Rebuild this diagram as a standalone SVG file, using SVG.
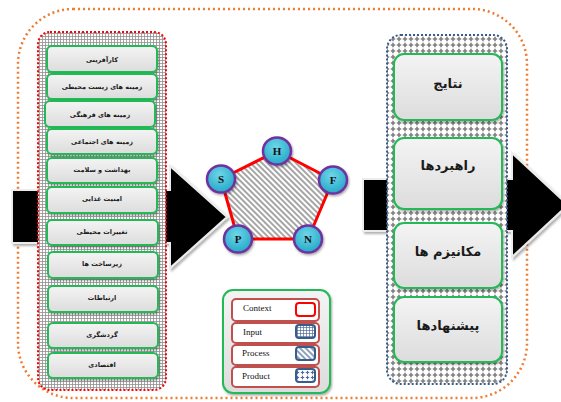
<svg xmlns="http://www.w3.org/2000/svg" width="561" height="402" viewBox="0 0 561 402">
<defs>
  <pattern id="grid" width="3" height="3" patternUnits="userSpaceOnUse">
    <rect width="3" height="3" fill="#ffffff"/>
    <path d="M0,0.5 H3 M0.5,0 V3" stroke="#8f8f8f" stroke-width="0.8"/>
  </pattern>
  <pattern id="plus" width="6" height="6" patternUnits="userSpaceOnUse">
    <rect width="6" height="6" fill="#ffffff"/>
    <path d="M3,0.8 V5.2 M0.8,3 H5.2" stroke="#7f7f7f" stroke-width="1.6"/>
  </pattern>
  <pattern id="hatch" width="4" height="4" patternUnits="userSpaceOnUse" patternTransform="rotate(45)">
    <rect width="4" height="4" fill="#ffffff"/>
    <path d="M0,2 H4" stroke="#808080" stroke-width="1.4"/>
  </pattern>
  <pattern id="smallgrid" width="3" height="3" patternUnits="userSpaceOnUse">
    <rect width="3" height="3" fill="#ffffff"/>
    <path d="M0,0.5 H3 M0.5,0 V3" stroke="#4f6d9a" stroke-width="0.7"/>
  </pattern>
  <pattern id="smallhatch" width="4" height="4" patternUnits="userSpaceOnUse" patternTransform="rotate(45)">
    <rect width="4" height="4" fill="#ffffff"/>
    <path d="M0,2 H4" stroke="#4f6d9a" stroke-width="1.3"/>
  </pattern>
  <pattern id="smallplus" width="5" height="5" patternUnits="userSpaceOnUse">
    <rect width="5" height="5" fill="#ffffff"/>
    <path d="M2.5,0.8 V4.2 M0.8,2.5 H4.2" stroke="#4f6d9a" stroke-width="1.2"/>
  </pattern>
  <linearGradient id="boxfill" x1="0" y1="0" x2="0" y2="1">
    <stop offset="0" stop-color="#f4f4f4"/>
    <stop offset="1" stop-color="#dcdcdc"/>
  </linearGradient>
  <radialGradient id="ball" cx="0.45" cy="0.35" r="0.7">
    <stop offset="0" stop-color="#6fd6ea"/>
    <stop offset="1" stop-color="#1fa6c4"/>
  </radialGradient>
  <filter id="sh" x="-20%" y="-20%" width="140%" height="150%">
    <feDropShadow dx="1" dy="1.5" stdDeviation="1" flood-color="#000" flood-opacity="0.35"/>
  </filter>
  <filter id="ash" x="-10%" y="-10%" width="125%" height="125%">
    <feDropShadow dx="2" dy="2" stdDeviation="1.2" flood-color="#000" flood-opacity="0.3"/>
  </filter>
  <style>
    .lbox{fill:url(#boxfill);stroke:#23b957;stroke-width:2;filter:url(#sh)}
    .rbox{fill:url(#boxfill);stroke:#23b957;stroke-width:2;filter:url(#sh)}
    .lt{font-family:"DejaVu Sans",sans-serif;font-weight:bold;font-size:6.5px;fill:#1a1a1a;text-anchor:middle}
    .rt{font-family:"DejaVu Sans",sans-serif;font-weight:bold;font-size:13px;fill:#1a1a1a;text-anchor:middle}
    .ball{fill:url(#ball);stroke:#7030a0;stroke-width:2.5;filter:url(#sh)}
    .bt{font-family:"Liberation Serif",serif;font-weight:bold;font-size:11px;fill:#111;text-anchor:middle}
    .lrow{fill:#ffffff;stroke:#c0504d;stroke-width:2}
    .lg{font-family:"Liberation Serif",serif;font-size:9px;fill:#111}
    .arrow{fill:#000;stroke:#ececec;stroke-width:2;filter:url(#ash)}
  </style>
</defs>

<rect width="561" height="402" fill="#ffffff"/>

<!-- outer frame -->
<rect id="frame" x="18" y="9" width="509" height="389" rx="55" fill="none" stroke="#ed7d31" stroke-width="2.5" stroke-dasharray="2 3"/>

<!-- connectors (big arrows) -->
<g id="connectors">
  <path class="arrow" d="M12,190 H170 V166 L227,217 L170,268 V243 H12 Z"/>
  <path class="arrow" d="M363,179 H512 V153 L568,205 L512,257 V231 H363 Z"/>
</g>

<!-- left column -->
<g id="left-column">
  <rect x="38" y="32" width="128" height="358" rx="12" fill="url(#grid)" stroke="#ff0000" stroke-width="2" stroke-dasharray="2 2"/>
  <g id="l1"><rect class="lbox" x="47" y="46" width="110" height="26" rx="5"/><text class="lt" x="102" y="62">کارآفرینی</text></g>
  <g id="l2"><rect class="lbox" x="47" y="74" width="110" height="25" rx="5"/><text class="lt" x="102" y="89">زمینه های زیست محیطی</text></g>
  <g id="l3"><rect class="lbox" x="45" y="101" width="110" height="26" rx="5"/><text class="lt" x="100" y="117">زمینه های فرهنگی</text></g>
  <g id="l4"><rect class="lbox" x="47" y="129" width="110" height="25" rx="5"/><text class="lt" x="102" y="144">زمینه های اجتماعی</text></g>
  <g id="l5"><rect class="lbox" x="47" y="158" width="110" height="25" rx="5"/><text class="lt" x="102" y="172">بهداشت و سلامت</text></g>
  <g id="l6"><rect class="lbox" x="47" y="187" width="110" height="26" rx="5"/><text class="lt" x="102" y="201">امنیت غذایی</text></g>
  <g id="l7"><rect class="lbox" x="47" y="220" width="111" height="25" rx="5"/><text class="lt" x="102" y="234">تغییرات محیطی</text></g>
  <g id="l8"><rect class="lbox" x="48" y="252" width="110" height="26" rx="5"/><text class="lt" x="102" y="266">زیرساخت ها</text></g>
  <g id="l9"><rect class="lbox" x="48" y="286" width="110" height="26" rx="5"/><text class="lt" x="102" y="300">ارتباطات</text></g>
  <g id="l10"><rect class="lbox" x="48" y="323" width="110" height="25" rx="5"/><text class="lt" x="102" y="337">گردشگری</text></g>
  <g id="l11"><rect class="lbox" x="48" y="353" width="110" height="25" rx="5"/><text class="lt" x="102" y="367">اقتصادی</text></g>
</g>

<!-- center pentagon -->
<g id="pentagon">
  <polygon points="277,151 333,180 308,239 238,239 221,179" fill="url(#hatch)" stroke="#ff0000" stroke-width="3" stroke-linejoin="round"/>
  <g id="nH"><ellipse class="ball" cx="277" cy="151" rx="14" ry="13.5"/><text class="bt" x="277" y="155">H</text></g>
  <g id="nF"><ellipse class="ball" cx="333" cy="180" rx="14" ry="13.5"/><text class="bt" x="333" y="184">F</text></g>
  <g id="nN"><ellipse class="ball" cx="308" cy="239" rx="14" ry="13.5"/><text class="bt" x="308" y="243">N</text></g>
  <g id="nP"><ellipse class="ball" cx="238" cy="239" rx="14" ry="13.5"/><text class="bt" x="238" y="243">P</text></g>
  <g id="nS"><ellipse class="ball" cx="221" cy="179" rx="14" ry="13.5"/><text class="bt" x="221" y="183">S</text></g>
</g>

<!-- legend -->
<g id="legend">
  <rect x="223" y="290" width="107" height="103" rx="10" fill="url(#boxfill)" stroke="#23b957" stroke-width="2" filter="url(#sh)"/>
  <rect class="lrow" x="232" y="299" width="87" height="22" rx="4"/>
  <rect class="lrow" x="232" y="323" width="87" height="20" rx="4"/>
  <rect class="lrow" x="232" y="345" width="87" height="20" rx="4"/>
  <rect class="lrow" x="232" y="367" width="87" height="20" rx="4"/>
  <text class="lg" x="243" y="311">Context</text>
  <text class="lg" x="243" y="335">Input</text>
  <text class="lg" x="242" y="356">Process</text>
  <text class="lg" x="242" y="379">Product</text>
  <rect x="296" y="303" width="19" height="13" rx="3" fill="#fff" stroke="#ff0000" stroke-width="2"/>
  <rect x="296" y="325" width="19" height="13" rx="3" fill="url(#smallgrid)" stroke="#385d8a" stroke-width="2"/>
  <rect x="296" y="347" width="19" height="13" rx="3" fill="url(#smallhatch)" stroke="#385d8a" stroke-width="2"/>
  <rect x="296" y="369" width="19" height="13" rx="3" fill="url(#smallplus)" stroke="#385d8a" stroke-width="2"/>
</g>

<!-- right column -->
<g id="right-column">
  <rect x="387" y="35" width="120" height="349" rx="14" fill="url(#plus)" stroke="#385d8a" stroke-width="2" stroke-dasharray="2 2"/>
  <g id="r1"><rect class="rbox" x="394" y="54" width="108" height="66" rx="10"/><text class="rt" x="448" y="88">نتایج</text></g>
  <g id="r2"><rect class="rbox" x="394" y="138" width="108" height="71" rx="10"/><text class="rt" x="448" y="170">راهبردها</text></g>
  <g id="r3"><rect class="rbox" x="394" y="223" width="108" height="65" rx="10"/><text class="rt" x="448" y="256">مکانیزم ها</text></g>
  <g id="r4"><rect class="rbox" x="394" y="297" width="108" height="65" rx="10"/><text class="rt" x="448" y="330">پیشنهادها</text></g>
</g>
</svg>
